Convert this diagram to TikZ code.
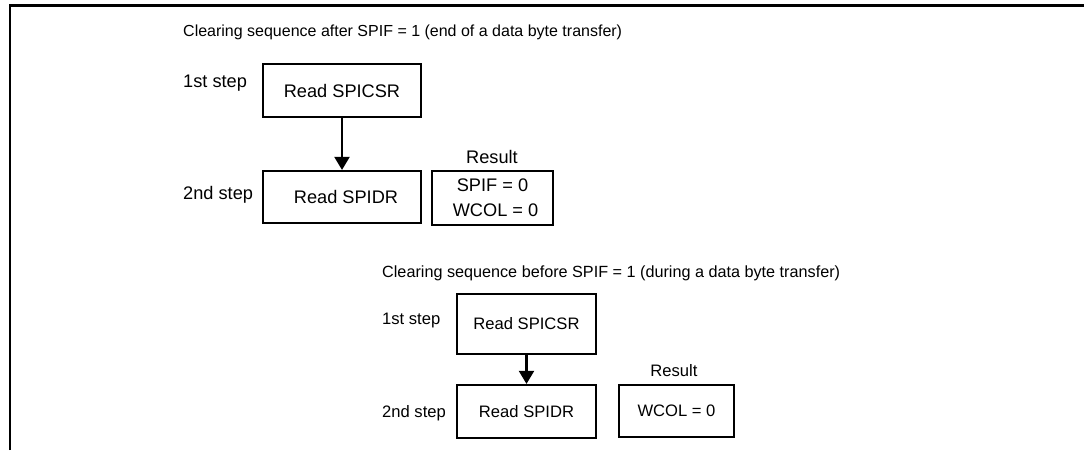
\documentclass[tikz,border=0pt]{standalone}
\usepackage{fontspec}
\setmainfont{Liberation Sans}
\usetikzlibrary{arrows.meta}

\begin{document}
\begin{tikzpicture}[
    x=1pt, y=-1pt,
    every node/.style={inner sep=0pt},
    bigtxt/.style={font=\fontsize{18.2}{25}\selectfont},
    smalltxt/.style={font=\fontsize{16.6}{20}\selectfont},
    headtxt/.style={font=\fontsize{16}{19}\selectfont, anchor=west},
    % box for one read step
    stepbox/.style={rectangle, draw, line width=2.2pt, align=center},
    flow/.style={line width=2.2pt, -{Triangle[width=15pt,length=13pt]}}
]
\useasboundingbox (0,0) rectangle (1084,450);

% Frame
\draw[line width=2.8pt] (10,450) -- (10,5.7) -- (1084,5.7);

% Sequence after SPIF = 1
\node[headtxt] (T1) at (183,32) {Clearing sequence after SPIF = 1 (end of a data byte transfer)};

\node[bigtxt, anchor=west] (S1a) at (183,83) {1st step};
\node[stepbox, bigtxt, minimum width=158pt, minimum height=53pt] (A1) at (342,90.5) {Read SPICSR};

\node[bigtxt, anchor=west] (S1b) at (183,195) {2nd step};
\node[stepbox, bigtxt, minimum width=158pt, minimum height=52pt] (A2) at (342,197) {\hspace*{8pt}Read SPIDR};

\node[bigtxt] (R1) at (492,157) {Result};
\node[stepbox, bigtxt, minimum width=121pt, minimum height=54pt] (RB1) at (492.5,198) {SPIF = 0\\ \hspace*{6pt}WCOL = 0};

\draw[flow] (A1) -- (A2);

% Sequence before SPIF = 1
\node[headtxt, font=\fontsize{16.2}{19}\selectfont] (T2) at (382,273) {Clearing sequence before SPIF = 1 (during a data byte transfer)};

\node[smalltxt, anchor=west] (S2a) at (382,321) {1st step};
\node[stepbox, smalltxt, minimum width=139pt, minimum height=60pt] (B1) at (526.5,324) {Read SPICSR};

\node[smalltxt, anchor=west] (S2b) at (382,413) {2nd step};
\node[stepbox, smalltxt, minimum width=139pt, minimum height=53pt] (B2) at (526.5,411.5) {Read SPIDR};

\node[smalltxt] (R2) at (674,371) {Result};
\node[stepbox, smalltxt, minimum width=115pt, minimum height=52pt] (RB2) at (676.5,411) {WCOL = 0};

\draw[flow] (B1) -- (B2);

\end{tikzpicture}
\end{document}
